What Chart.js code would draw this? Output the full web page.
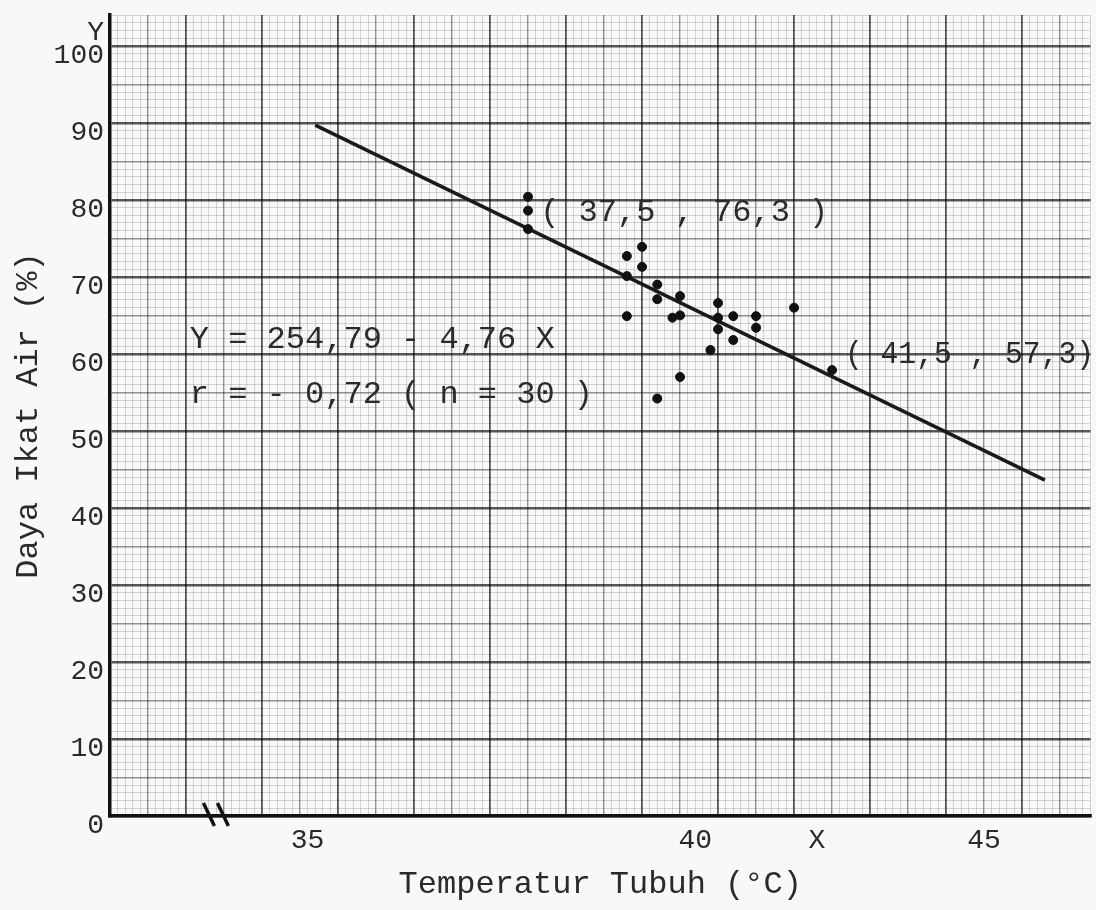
<!DOCTYPE html>
<html>
<head>
<meta charset="utf-8">
<script src="https://cdn.jsdelivr.net/npm/chart.js@4/dist/chart.umd.min.js"></script>
<style>
  body { margin: 0; background: #f8f8f8; }
  canvas { display: block; }
</style>
</head>
<body>
<canvas id="chart" width="1096" height="910"></canvas>
<script>
'use strict'
// temperature (°C) and water holding capacity (%)
const tempVals = [37.5, 37.5, 37.5, 38.8, 39.0, 39.0, 38.8, 39.2, 39.2, 39.5, 38.8, 39.4, 39.5,
    40.0, 40.0, 40.0, 40.2, 40.5, 40.5, 40.2, 39.9, 41.0, 39.5, 39.2, 41.5];
const airVals = [80.4, 78.6, 76.2, 72.7, 73.9, 71.3, 70.1, 69.0, 67.1, 67.5, 64.9, 64.7, 65.0,
    66.6, 64.7, 63.2, 64.9, 64.9, 63.4, 61.8, 60.5, 66.0, 57.0, 54.2, 57.9];

// regression line Y = 254,79 - 4,76 X as drawn (end points)
const lineX = [34.7, 44.3];
const lineY = [89.7, 43.6];

// hand typed axis labels, at the places where they stand on the paper
const xTickValues = [34.6, 39.7, 41.3, 43.5];
const xTickLabels = ['35', '40', 'X', '45'];
const yTickValues = [0, 10, 20, 30, 40, 50, 60, 70, 80, 90, 100, 103];
const yTickLabels = ['0', '10', '20', '30', '40', '50', '60', '70', '80', '90', '100', 'Y'];

const axisBreak = 33.4;

const notes = [
    { text: '( 37,5 , 76,3 )', x: 37.66, y: 78.3 },
    { text: '( 41,5 , 57,3)', x: 41.67, y: 59.9 },
    { text: 'Y = 254,79 - 4,76 X', x: 33.05, y: 61.8 },
    { text: 'r = - 0,72 ( n = 30 )', x: 33.05, y: 54.7 }
];

const mono = "'Liberation Mono', 'DejaVu Sans Mono', monospace";
const ink = '#2a2a2a';

function paperColor(k, major, mid) {
    if (k % major == 0) return 'rgba(0,0,0,0.66)';
    if (k % mid == 0) return 'rgba(0,0,0,0.42)';
    return 'rgba(0,0,0,0.15)';
}
function paperWidth(k, major, mid, heavy) {
    if (k % major == 0) return heavy;
    if (k % mid == 0) return 1.4;
    return 1;
}

const paperPlugin = {
    id: 'paper',
    beforeDraw(chart) {
        const ctx = chart.ctx;
        ctx.save();
        ctx.fillStyle = '#f8f8f8';
        ctx.fillRect(0, 0, chart.width, chart.height);
        ctx.restore();
    },
    afterDatasetsDraw(chart) {
        const ctx = chart.ctx;
        const xs = chart.scales.x, ys = chart.scales.y;
        ctx.save();
        ctx.fillStyle = ink;
        ctx.font = '32px ' + mono;
        ctx.textAlign = 'left';
        ctx.textBaseline = 'middle';
        notes.forEach(n => {
            const px = xs.getPixelForValue(n.x);
            ctx.fillText(n.text, px, ys.getPixelForValue(n.y), chart.width - px - 2);
        });
        // axis break mark
        const bx = xs.getPixelForValue(axisBreak);
        const by = ys.getPixelForValue(0);
        ctx.strokeStyle = '#111';
        ctx.lineWidth = 3.5;
        [-7, 7].forEach(d => {
            ctx.beginPath();
            ctx.moveTo(bx + d - 6, by - 13);
            ctx.lineTo(bx + d + 5, by + 10);
            ctx.stroke();
        });
        ctx.restore();
    }
};

new Chart(document.getElementById('chart'), {
    type: 'scatter',
    data: {
        datasets: [{
            data: tempVals.map((t, i) => ({ x: t, y: airVals[i] })),
            backgroundColor: '#111',
            borderColor: '#111',
            pointRadius: 4.5,
            pointHoverRadius: 4.5
        }, {
            data: lineX.map((t, i) => ({ x: t, y: lineY[i] })),
            showLine: true,
            borderColor: '#1a1a1a',
            borderWidth: 3.5,
            pointRadius: 0
        }]
    },
    options: {
        responsive: false,
        animation: false,
        layout: { padding: { top: 15, right: 4, left: 0, bottom: 0 } },
        plugins: { legend: { display: false }, tooltip: { enabled: false } },
        scales: {
            x: {
                type: 'linear',
                min: 32,
                max: 44.9,
                afterBuildTicks: scale => {
                    scale.ticks = [];
                    for (let k = 320; k <= 449; k++) scale.ticks.push({ value: k / 10 });
                },
                afterFit: scale => {
                    scale.height = 94;
                    scale.paddingLeft = 0;
                    scale.paddingRight = 0;
                },
                ticks: {
                    autoSkip: false,
                    maxRotation: 0,
                    padding: 8,
                    color: ink,
                    font: { family: mono, size: 28 },
                    callback: v => {
                        const i = xTickValues.findIndex(t => Math.round(t * 10) == Math.round(v * 10));
                        return i >= 0 ? xTickLabels[i] : '';
                    }
                },
                grid: {
                    drawTicks: false,
                    color: c => paperColor(Math.round(c.tick.value * 10), 10, 5),
                    lineWidth: c => paperWidth(Math.round(c.tick.value * 10), 10, 5, 1.8)
                },
                border: { color: '#111', width: 3.5 },
                title: {
                    display: true,
                    text: 'Temperatur Tubuh (°C)',
                    color: ink,
                    font: { family: mono, size: 32 },
                    padding: { top: 0, bottom: 6 }
                }
            },
            y: {
                min: 0,
                max: 104,
                afterBuildTicks: scale => {
                    scale.ticks = [];
                    for (let k = 0; k <= 104; k++) scale.ticks.push({ value: k });
                },
                afterFit: scale => {
                    scale.width = 110;
                    scale.paddingTop = 0;
                    scale.paddingBottom = 0;
                },
                ticks: {
                    autoSkip: false,
                    padding: 6,
                    labelOffset: 10,
                    color: ink,
                    font: { family: mono, size: 28 },
                    callback: v => {
                        const i = yTickValues.indexOf(Math.round(v));
                        return i >= 0 ? yTickLabels[i] : '';
                    }
                },
                grid: {
                    drawTicks: false,
                    color: c => paperColor(Math.round(c.tick.value), 10, 5),
                    lineWidth: c => paperWidth(Math.round(c.tick.value), 10, 5, 2.5)
                },
                border: { color: '#111', width: 3.5 },
                title: {
                    display: true,
                    text: 'Daya Ikat Air (%)',
                    color: ink,
                    font: { family: mono, size: 32 },
                    padding: { top: 9, bottom: 0 }
                }
            }
        }
    },
    plugins: [paperPlugin]
});
</script>
</body>
</html>
